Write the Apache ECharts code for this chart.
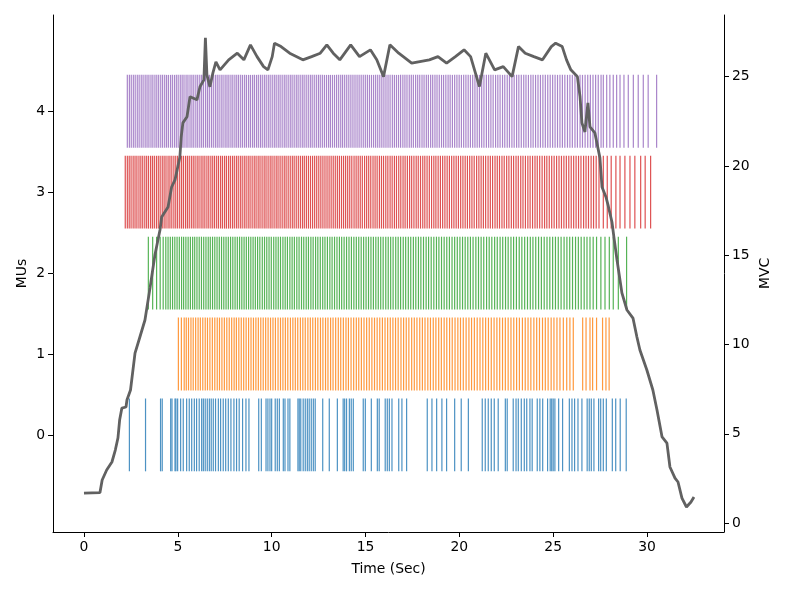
<!DOCTYPE html>
<html>
<head>
<meta charset="utf-8">
<script src="https://cdn.jsdelivr.net/npm/echarts@6/dist/echarts.min.js"></script>
<style>
html,body{margin:0;padding:0;background:#fff;}
#chart{width:787px;height:590px;}
</style>
</head>
<body>
<div id="chart"></div>
<script>
// ---- data ----
const muOffsets = [0, 1, 2, 3, 4];
const muColors = ['#1f77b4', '#ff7f0e', '#2ca02c', '#d62728', '#9467bd'];

const mu0 = [2.42,3.28,4.08,4.17,4.62,4.69,4.85,4.90,4.99,5.15,5.29,5.47,5.61,5.74,5.88,6.00,6.14,6.27,6.36,6.46,6.57,6.68,6.78,6.89,7.01,7.16,7.28,7.42,7.55,7.69,7.83,7.99,8.13,8.27,8.45,8.63,8.79,9.31,9.45,9.70,9.80,9.91,10.00,10.19,10.30,10.41,10.62,10.71,10.87,10.97,11.40,11.47,11.55,11.68,11.79,11.90,12.00,12.11,12.22,12.32,12.72,13.07,13.50,13.81,13.89,13.99,14.14,14.24,14.35,14.88,14.99,15.31,15.63,15.73,16.05,16.16,16.27,16.41,16.77,16.94,17.19,18.29,18.54,18.79,19.07,19.32,19.75,20.10,20.48,21.22,21.38,21.54,21.70,21.86,22.07,22.45,22.55,22.87,23.02,23.14,23.30,23.46,23.59,23.76,23.88,24.15,24.29,24.44,24.70,24.84,24.92,25.00,25.09,25.29,25.50,25.86,26.00,26.14,26.32,26.53,26.81,26.92,27.03,27.17,27.42,27.53,27.67,27.83,28.15,28.33,28.57,28.89];

const mu1 = [5.03,5.19,5.34,5.45,5.57,5.70,5.82,5.95,6.08,6.20,6.33,6.46,6.58,6.71,6.84,6.97,7.10,7.22,7.35,7.48,7.61,7.74,7.87,8.00,8.12,8.25,8.38,8.51,8.64,8.77,8.90,9.03,9.16,9.29,9.42,9.55,9.68,9.81,9.94,10.07,10.20,10.34,10.47,10.60,10.73,10.86,11.00,11.13,11.26,11.39,11.53,11.66,11.79,11.93,12.06,12.19,12.33,12.46,12.60,12.73,12.87,13.00,13.14,13.27,13.41,13.55,13.68,13.82,13.96,14.09,14.23,14.37,14.51,14.64,14.78,14.92,15.06,15.20,15.34,15.48,15.62,15.76,15.90,16.04,16.18,16.32,16.46,16.60,16.74,16.89,17.03,17.17,17.31,17.46,17.60,17.74,17.89,18.03,18.17,18.32,18.46,18.61,18.75,18.90,19.04,19.19,19.33,19.48,19.62,19.77,19.92,20.06,20.21,20.36,20.51,20.65,20.80,20.95,21.10,21.25,21.40,21.55,21.70,21.85,22.00,22.15,22.30,22.45,22.60,22.75,22.90,23.05,23.20,23.36,23.51,23.66,23.81,23.97,24.12,24.27,24.43,24.58,24.73,24.89,25.04,25.20,25.36,25.54,25.72,25.89,26.07,26.57,26.75,26.96,27.10,27.31,27.63,27.81,27.98];

const mu2 = [3.43,3.66,3.87,4.06,4.22,4.36,4.48,4.60,4.72,4.84,4.96,5.08,5.20,5.31,5.43,5.55,5.67,5.79,5.90,6.02,6.14,6.26,6.38,6.50,6.62,6.73,6.85,6.97,7.09,7.21,7.33,7.45,7.57,7.69,7.81,7.93,8.05,8.17,8.29,8.41,8.53,8.65,8.77,8.89,9.01,9.13,9.25,9.37,9.50,9.62,9.74,9.86,9.98,10.11,10.23,10.35,10.47,10.60,10.72,10.84,10.97,11.09,11.21,11.34,11.46,11.59,11.71,11.84,11.96,12.09,12.21,12.34,12.46,12.59,12.72,12.84,12.97,13.10,13.22,13.35,13.48,13.61,13.73,13.86,13.99,14.12,14.25,14.38,14.51,14.64,14.77,14.90,15.03,15.16,15.29,15.42,15.55,15.68,15.81,15.94,16.08,16.21,16.34,16.47,16.61,16.74,16.87,17.01,17.14,17.28,17.41,17.55,17.68,17.82,17.95,18.09,18.23,18.36,18.50,18.64,18.78,18.91,19.05,19.19,19.33,19.47,19.61,19.75,19.89,20.03,20.17,20.31,20.45,20.59,20.73,20.88,21.02,21.16,21.30,21.45,21.59,21.73,21.88,22.02,22.17,22.31,22.46,22.60,22.75,22.89,23.04,23.19,23.33,23.48,23.63,23.78,23.92,24.07,24.22,24.37,24.52,24.67,24.82,24.97,25.12,25.27,25.42,25.58,25.73,25.88,26.03,26.19,26.34,26.49,26.65,26.80,26.96,27.13,27.31,27.54,27.76,27.99,28.20,28.47,28.91];

const mu3 = [2.20,2.31,2.41,2.51,2.62,2.72,2.82,2.93,3.03,3.13,3.24,3.34,3.44,3.55,3.65,3.75,3.86,3.96,4.06,4.17,4.27,4.37,4.48,4.58,4.68,4.79,4.89,4.99,5.10,5.20,5.30,5.41,5.51,5.61,5.72,5.82,5.92,6.03,6.13,6.24,6.34,6.44,6.55,6.65,6.76,6.86,6.96,7.07,7.17,7.28,7.38,7.49,7.59,7.70,7.80,7.91,8.01,8.12,8.22,8.33,8.43,8.54,8.64,8.75,8.85,8.96,9.07,9.17,9.28,9.38,9.49,9.60,9.70,9.81,9.92,10.02,10.13,10.24,10.34,10.45,10.56,10.67,10.77,10.88,10.99,11.10,11.20,11.31,11.42,11.53,11.64,11.74,11.85,11.96,12.07,12.18,12.29,12.40,12.51,12.62,12.73,12.84,12.95,13.06,13.17,13.28,13.39,13.50,13.61,13.72,13.83,13.94,14.05,14.16,14.27,14.39,14.50,14.61,14.72,14.83,14.95,15.06,15.17,15.28,15.40,15.51,15.62,15.74,15.85,15.96,16.08,16.19,16.31,16.42,16.54,16.65,16.77,16.88,17.00,17.11,17.23,17.35,17.46,17.58,17.70,17.81,17.93,18.05,18.16,18.28,18.40,18.52,18.64,18.75,18.87,18.99,19.11,19.23,19.35,19.47,19.59,19.71,19.83,19.95,20.07,20.19,20.31,20.43,20.55,20.67,20.79,20.92,21.04,21.16,21.28,21.40,21.53,21.65,21.77,21.90,22.02,22.14,22.27,22.39,22.52,22.64,22.77,22.89,23.02,23.14,23.27,23.39,23.52,23.65,23.77,23.90,24.03,24.15,24.28,24.41,24.54,24.66,24.79,24.92,25.05,25.18,25.31,25.44,25.57,25.70,25.83,25.96,26.09,26.22,26.35,26.48,26.62,26.75,26.88,27.02,27.15,27.29,27.44,27.67,27.88,28.09,28.34,28.56,28.82,29.09,29.35,29.66,29.90,30.19];

const mu4 = [2.31,2.42,2.52,2.63,2.73,2.84,2.94,3.05,3.15,3.26,3.36,3.46,3.57,3.67,3.78,3.88,3.98,4.09,4.19,4.30,4.40,4.50,4.61,4.71,4.82,4.92,5.02,5.13,5.23,5.33,5.44,5.54,5.65,5.75,5.85,5.96,6.06,6.17,6.27,6.37,6.48,6.58,6.68,6.79,6.89,7.00,7.10,7.20,7.31,7.41,7.52,7.62,7.72,7.83,7.93,8.04,8.14,8.24,8.35,8.45,8.56,8.66,8.77,8.87,8.98,9.08,9.19,9.29,9.40,9.50,9.61,9.71,9.82,9.92,10.03,10.14,10.24,10.35,10.45,10.56,10.67,10.77,10.88,10.99,11.09,11.20,11.31,11.41,11.52,11.63,11.73,11.84,11.95,12.06,12.16,12.27,12.38,12.49,12.59,12.70,12.81,12.92,13.03,13.13,13.24,13.35,13.46,13.57,13.68,13.78,13.89,14.00,14.11,14.22,14.33,14.44,14.55,14.66,14.77,14.88,14.99,15.10,15.21,15.32,15.43,15.54,15.65,15.76,15.87,15.98,16.09,16.20,16.31,16.43,16.54,16.65,16.76,16.87,16.99,17.10,17.21,17.33,17.44,17.55,17.67,17.78,17.89,18.01,18.12,18.24,18.35,18.47,18.58,18.70,18.81,18.93,19.05,19.16,19.28,19.40,19.51,19.63,19.75,19.87,19.99,20.11,20.23,20.35,20.47,20.59,20.71,20.83,20.95,21.07,21.19,21.31,21.44,21.56,21.68,21.80,21.93,22.05,22.17,22.30,22.42,22.55,22.67,22.80,22.92,23.05,23.17,23.30,23.43,23.55,23.68,23.81,23.93,24.06,24.19,24.32,24.45,24.58,24.71,24.84,24.97,25.10,25.23,25.36,25.49,25.62,25.76,25.89,26.02,26.16,26.29,26.43,26.56,26.70,26.84,26.98,27.12,27.26,27.40,27.55,27.67,27.85,28.02,28.20,28.38,28.56,28.77,29.00,29.27,29.53,29.80,30.06,30.51];

const forceTime = [0,0.85,0.97,1.21,1.49,1.67,1.81,1.90,2.02,2.24,2.29,2.48,2.72,2.98,3.25,3.52,3.78,4.05,4.14,4.48,4.67,4.85,5.11,5.18,5.27,5.49,5.65,6.02,6.18,6.39,6.47,6.55,6.71,6.87,7.03,7.25,7.71,8.17,8.52,8.87,9.22,9.57,9.80,10.03,10.15,10.50,10.96,11.66,12.13,12.59,12.94,13.28,13.63,14.21,14.68,15.26,15.60,15.96,16.30,16.77,17.46,18.40,18.86,19.32,19.79,20.25,20.60,21.07,21.41,21.88,22.34,22.81,23.15,23.51,23.97,24.43,24.90,25.13,25.48,25.71,25.94,26.29,26.43,26.53,26.69,26.85,26.96,27.22,27.49,27.60,27.81,27.92,28.13,28.24,28.40,28.66,28.93,29.25,29.46,29.62,29.99,30.31,30.53,30.80,31.06,31.22,31.49,31.65,31.86,32.10,32.34,32.50];
const forceMVC = [1.68,1.70,2.41,2.97,3.42,4.09,4.76,5.77,6.44,6.50,6.89,7.45,9.52,10.42,11.37,13.17,15.01,16.41,17.14,17.70,18.82,19.22,20.50,21.62,22.41,22.75,23.87,23.70,24.43,24.82,27.17,25.10,24.43,25.21,25.83,25.38,25.94,26.31,25.94,26.78,26.12,25.56,25.38,26.12,26.87,26.68,26.31,25.94,26.12,26.31,26.78,26.31,25.94,26.78,26.12,26.50,25.94,25.00,26.78,26.31,25.75,25.94,26.12,25.75,26.12,26.50,26.12,24.44,26.31,25.38,25.56,25.00,26.68,26.31,26.12,25.94,26.68,26.87,26.68,25.94,25.38,25.00,23.87,22.41,21.90,23.53,22.18,21.85,20.45,18.82,18.26,17.82,16.86,15.97,14.73,12.89,11.93,11.48,10.42,9.69,8.57,7.45,6.33,4.82,4.48,3.14,2.52,2.30,1.40,0.90,1.18,1.46];

const xTicks = [0, 5, 10, 15, 20, 25, 30];
const muTicks = [0, 1, 2, 3, 4];
const mvcTicks = [0, 5, 10, 15, 20, 25];

// ---- chart ----
const trains = [mu0, mu1, mu2, mu3, mu4];
const FONT = 'DejaVu Sans';
const LINE_HALF = 0.45;

function spikeSeries(i) {
  const color = muColors[i];
  return {
    type: 'custom',
    xAxisIndex: 0,
    yAxisIndex: 0,
    silent: true,
    z: 2,
    encode: { x: 0, y: 1 },
    data: trains[i].map(t => [t, muOffsets[i]]),
    renderItem: function (params, api) {
      const t = api.value(0), off = api.value(1);
      const p1 = api.coord([t, off - LINE_HALF]);
      const p2 = api.coord([t, off + LINE_HALF]);
      return {
        type: 'line',
        shape: { x1: p1[0], y1: p1[1], x2: p2[0], y2: p2[1] },
        style: { stroke: color, lineWidth: 1.2, opacity: 0.8 }
      };
    }
  };
}

const axisCommon = {
  axisLine: { show: true, onZero: false, lineStyle: { color: '#000', width: 1 } },
  splitLine: { show: false },
  nameMoveOverlap: false,
  nameTextStyle: { fontFamily: FONT, fontSize: 13.9, color: '#000' }
};

const chart = echarts.init(document.getElementById('chart'), null, { renderer: 'canvas' });
chart.setOption({
  animation: false,
  backgroundColor: '#fff',
  grid: { left: 53, right: 63, top: 15, bottom: 58, containLabel: false },
  xAxis: Object.assign({}, axisCommon, {
    type: 'value', min: -1.65, max: 34.1,
    name: 'Time (Sec)', nameLocation: 'middle', nameGap: 30,
    axisTick: { show: true, length: 5, lineStyle: { color: '#000' }, customValues: xTicks },
    axisLabel: { customValues: xTicks, margin: 8, fontFamily: FONT, fontSize: 13.9, color: '#000',
      formatter: v => String(v) }
  }),
  yAxis: [
    Object.assign({}, axisCommon, {
      type: 'value', position: 'left', min: -1.2, max: 5.19,
      name: 'MUs', nameLocation: 'middle', nameGap: 24,
      axisTick: { show: true, length: 5, lineStyle: { color: '#000' }, customValues: muTicks },
      axisLabel: { customValues: muTicks, margin: 8, fontFamily: FONT, fontSize: 13.9, color: '#000',
        formatter: v => String(v) }
    }),
    Object.assign({}, axisCommon, {
      type: 'value', position: 'right', min: -0.5, max: 28.45,
      name: 'MVC', nameLocation: 'middle', nameGap: 34,
      axisTick: { show: true, length: 5, lineStyle: { color: '#000' }, customValues: mvcTicks },
      axisLabel: { customValues: mvcTicks, margin: 8, fontFamily: FONT, fontSize: 13.9, color: '#000',
        formatter: v => String(v) }
    })
  ],
  series: muOffsets.map((_, i) => spikeSeries(i)).concat([{
    type: 'line',
    xAxisIndex: 0,
    yAxisIndex: 1,
    z: 5,
    silent: true,
    showSymbol: false,
    symbol: 'none',
    data: forceTime.map((t, k) => [t, forceMVC[k]]),
    lineStyle: { color: '#616161', width: 2.8 }
  }])
});
</script>
</body>
</html>
